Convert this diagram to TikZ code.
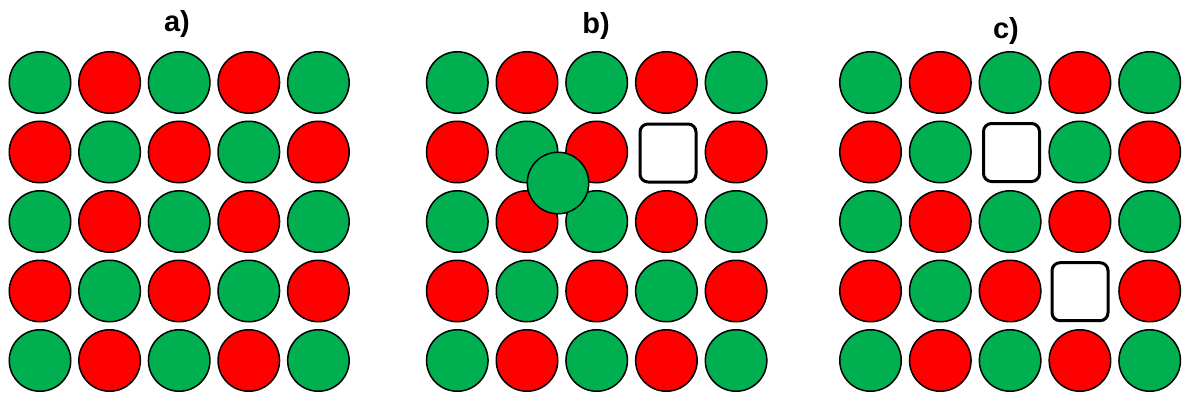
\documentclass[tikz,border=0pt]{standalone}
\usepackage{fontspec}
\setmainfont{Liberation Sans}
\definecolor{ballgreen}{HTML}{00B050}
\definecolor{ballred}{HTML}{FF0000}
\begin{document}
\begin{tikzpicture}[x=1pt,y=-1pt,
  ball/.style={circle,draw=black,line width=1.5pt,minimum size=61.5pt,inner sep=0pt},
  gball/.style={ball,fill=ballgreen},
  rball/.style={ball,fill=ballred},
  vacancy/.style={rectangle,rounded corners=8pt,draw=black,line width=3pt,fill=white,minimum width=56pt,minimum height=58pt,inner sep=0pt},
  panellabel/.style={font=\fontsize{29}{33}\selectfont\bfseries,inner sep=0pt}]
\useasboundingbox (0,0) rectangle (1183,396);
% labels
\node[panellabel] (la) at (177,24.5) {a)};
\node[panellabel] (lb) at (596,26) {b)};
\node[panellabel] (lc) at (1006,31) {c)};
% panel a
\foreach \r in {0,...,4}{
  \foreach \c in {0,...,4}{
    \pgfmathtruncatemacro\s{\r+\c}
    \ifodd\s
      \node[rball] (a\r\c) at ({40+69.6*\c},{82.5+69.5*\r}) {};
    \else
      \node[gball] (a\r\c) at ({40+69.6*\c},{82.5+69.5*\r}) {};
    \fi
  }
}
% panel b
\foreach \r in {0,...,4}{
  \foreach \c in {0,...,4}{
    \pgfmathtruncatemacro\s{\r+\c}
    \pgfmathtruncatemacro\id{10*\r+\c}
    \ifnum\id=13\relax\else
      \ifodd\s
        \node[rball] (b\r\c) at ({457.3+69.7*\c},{82.5+69.5*\r}) {};
      \else
        \node[gball] (b\r\c) at ({457.3+69.7*\c},{82.5+69.5*\r}) {};
      \fi
    \fi
  }
}
\node[vacancy] (b13) at (668,153) {};
\node[gball] (bx) at (558,183) {};
% panel c
\foreach \r in {0,...,4}{
  \foreach \c in {0,...,4}{
    \pgfmathtruncatemacro\s{\r+\c}
    \pgfmathtruncatemacro\id{10*\r+\c}
    \ifnum\id=12\relax\else
    \ifnum\id=33\relax\else
      \ifodd\s
        \node[rball] (c\r\c) at ({870.5+69.8*\c},{82.5+69.5*\r}) {};
      \else
        \node[gball] (c\r\c) at ({870.5+69.8*\c},{82.5+69.5*\r}) {};
      \fi
    \fi
    \fi
  }
}
\node[vacancy] (c12) at (1011.5,152.5) {};
\node[vacancy] (c33) at (1080,291.7) {};
\end{tikzpicture}
\end{document}
